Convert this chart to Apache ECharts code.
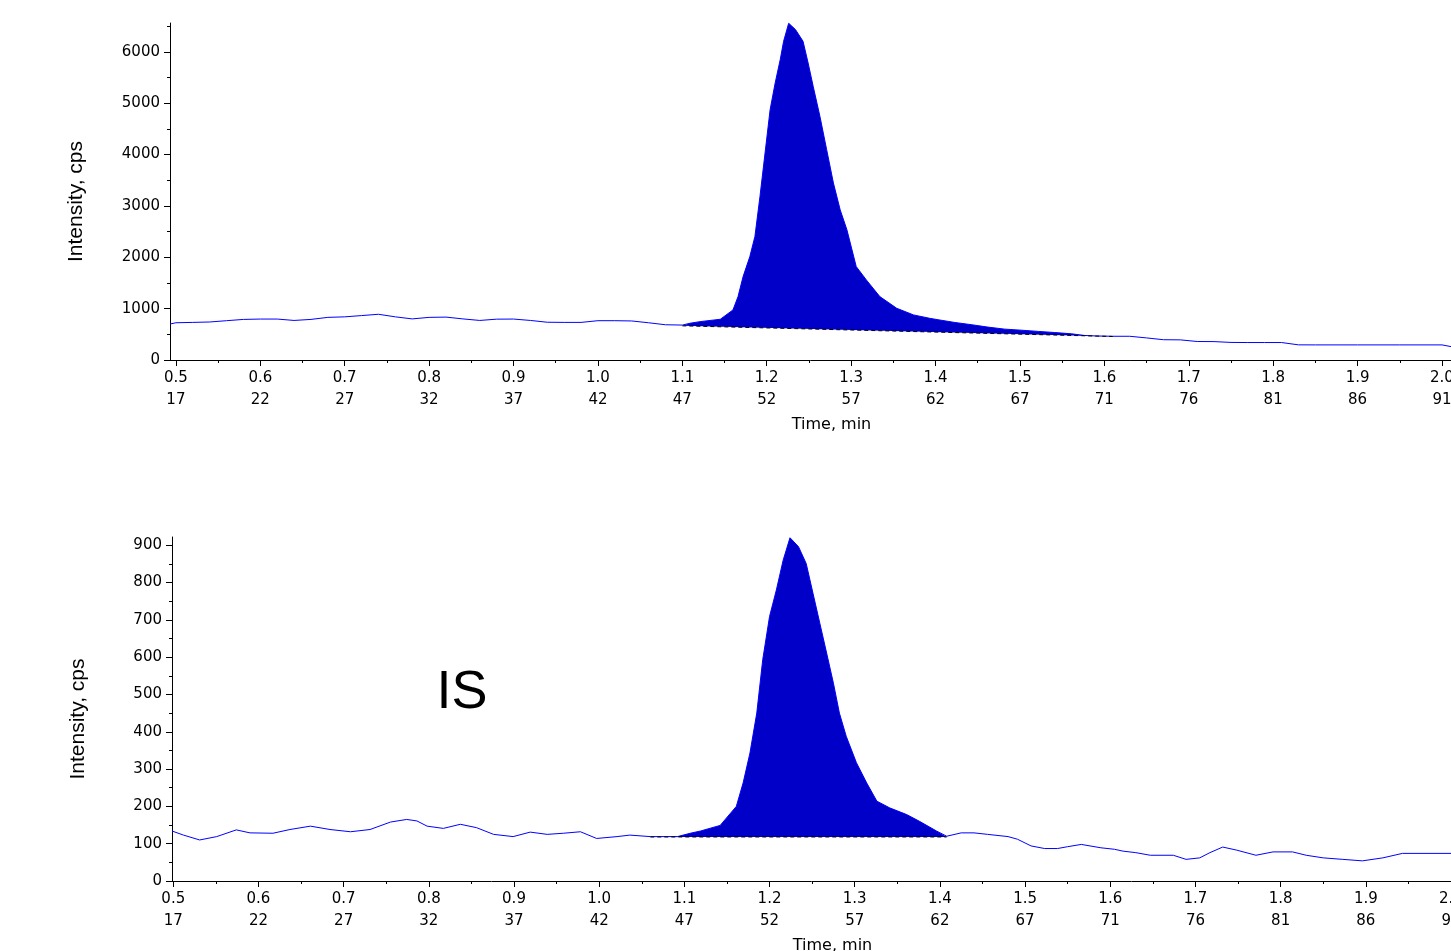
<!DOCTYPE html>
<html>
<head>
<meta charset="utf-8">
<title>XIC</title>
<script src="https://cdn.jsdelivr.net/npm/echarts@6/dist/echarts.min.js"></script>
<style>
  html, body { margin: 0; padding: 0; background: #fff; }
  #chart { width: 1451px; height: 951px; }
</style>
</head>
<body>
<div id="chart"></div>
<script>
// time ticks (min) and the scan numbers printed under them
const timeTicks = [0.5, 0.6, 0.7, 0.8, 0.9, 1.0, 1.1, 1.2, 1.3, 1.4, 1.5, 1.6, 1.7, 1.8, 1.9, 2.0];
const scanTicks = [17, 22, 27, 32, 37, 42, 47, 52, 57, 62, 67, 71, 76, 81, 86, 91];

// upper trace
const topTime = [0.493, 0.50, 0.52, 0.54, 0.56, 0.58, 0.60, 0.62, 0.64, 0.66, 0.68, 0.70, 0.72, 0.74, 0.76, 0.78,
  0.80, 0.82, 0.84, 0.86, 0.88, 0.90, 0.92, 0.94, 0.96, 0.98, 1.00, 1.02, 1.04, 1.06, 1.08, 1.10,
  1.109, 1.121, 1.145, 1.160, 1.166, 1.172, 1.180, 1.186, 1.192, 1.198, 1.204, 1.210, 1.216, 1.220, 1.226,
  1.234, 1.243, 1.249, 1.255, 1.263, 1.271, 1.279, 1.287, 1.295, 1.306, 1.318, 1.334, 1.354, 1.374, 1.393,
  1.403, 1.423, 1.443, 1.462, 1.482, 1.502, 1.522, 1.541, 1.561, 1.577, 1.59, 1.61, 1.63, 1.65, 1.67, 1.69,
  1.71, 1.73, 1.75, 1.77, 1.79, 1.81, 1.83, 1.85, 1.90, 1.95, 2.00, 2.011];
const topIntensity = [700, 725, 732, 740, 765, 790, 797, 797, 770, 790, 830, 840, 865, 890, 840, 800,
  830, 835, 800, 770, 795, 797, 770, 735, 732, 732, 765, 765, 760, 725, 686, 680,
  715, 747, 793, 975, 1234, 1624, 2014, 2404, 3183, 4028, 4873, 5393, 5848, 6205, 6555,
  6433, 6205, 5783, 5328, 4743, 4094, 3444, 2924, 2534, 1819, 1559, 1234, 1007, 877, 812,
  784, 730, 686, 640, 601, 580, 556, 535, 510, 477, 468, 462, 462, 430, 395, 392,
  360, 358, 342, 340, 340, 340, 295, 294, 294, 294, 294, 260];
const topBaseline = [[1.10, 665], [1.61, 458]];
const topYTicks = [0, 1000, 2000, 3000, 4000, 5000, 6000];

// lower trace (internal standard)
const bottomTime = [0.4985, 0.512, 0.531, 0.551, 0.574, 0.590, 0.617, 0.637, 0.661, 0.684, 0.708, 0.731, 0.755,
  0.774, 0.786, 0.798, 0.817, 0.837, 0.856, 0.876, 0.899, 0.919, 0.939, 0.958, 0.978, 0.997, 1.021, 1.036,
  1.060, 1.092, 1.107, 1.119, 1.142, 1.161, 1.169, 1.177, 1.185, 1.192, 1.200, 1.208, 1.216, 1.224, 1.234,
  1.243, 1.251, 1.259, 1.267, 1.275, 1.282, 1.290, 1.302, 1.314, 1.326, 1.341, 1.361, 1.376, 1.396, 1.408,
  1.425, 1.44, 1.456, 1.48, 1.491, 1.507, 1.523, 1.538, 1.55, 1.566, 1.589, 1.605, 1.615, 1.63, 1.647,
  1.674, 1.689, 1.705, 1.717, 1.732, 1.748, 1.771, 1.791, 1.814, 1.830, 1.850, 1.873, 1.896, 1.920, 1.943, 2.0];
const bottomIntensity = [134, 123, 110, 119, 137, 129, 128, 138, 147, 138, 132, 138, 158,
  165, 161, 147, 141, 152, 143, 125, 119, 131, 125, 128, 132, 114, 119, 123,
  119, 119, 128, 134, 149, 200, 263, 343, 450, 593, 709, 780, 860, 920, 896,
  851, 771, 691, 611, 530, 450, 388, 317, 263, 214, 196, 178, 160, 134, 120,
  129, 129, 125, 119, 112, 94, 87, 87, 92, 98, 89, 85, 80, 76, 69,
  69, 58, 62, 76, 91, 83, 69, 78, 78, 69, 62, 58, 54, 62, 74, 74];
const bottomBaseline = [[1.06, 118], [1.408, 118]];
const bottomYTicks = [0, 100, 200, 300, 400, 500, 600, 700, 800, 900];

const zip = (xs, ys) => xs.map((x, i) => [x, ys[i]]);

// outline of the integrated peak: baseline start, trace points, baseline end
function peakOutline(time, intensity, baseline) {
  const pts = [baseline[0]];
  time.forEach((t, i) => {
    if (t > baseline[0][0] && t < baseline[1][0]) pts.push([t, intensity[i]]);
  });
  pts.push(baseline[1]);
  return pts;
}

const tickFont = { color: '#000', fontFamily: 'DejaVu Sans', fontSize: 15 };

function xAxes(grid, min, max) {
  return [{
    type: 'value', gridIndex: grid, min: min, max: max,
    name: 'Time, min', nameLocation: 'middle', nameGap: 57,
    nameTextStyle: { color: '#000', fontFamily: 'DejaVu Sans', fontSize: 16, padding: [0, 0, 0, 42] },
    axisLine: { onZero: false, lineStyle: { color: '#000', width: 1 } },
    axisTick: { customValues: timeTicks, length: 6, lineStyle: { color: '#000' } },
    axisLabel: Object.assign({
      customValues: timeTicks, margin: 7, lineHeight: 22,
      formatter: v => v.toFixed(1) + '\n' + scanTicks[Math.round((v - 0.5) * 10)]
    }, tickFont),
    splitLine: { show: false }
  }, {
    type: 'value', gridIndex: grid, min: min, max: max, position: 'bottom',
    axisLine: { show: false },
    axisTick: { customValues: timeTicks.slice(0, -1).map(t => t + 0.05), length: 3, lineStyle: { color: '#000' } },
    axisLabel: { show: false },
    splitLine: { show: false }
  }];
}

function yAxes(grid, max, ticks) {
  const step = ticks[1] - ticks[0];
  return [{
    type: 'value', gridIndex: grid, min: 0, max: max,
    name: 'Intensity, cps', nameLocation: 'middle', nameGap: 83,
    nameTextStyle: { color: '#000', fontFamily: 'Liberation Sans', fontSize: 21, padding: [0, 20, 0, 0] },
    axisLine: { show: true, onZero: false, lineStyle: { color: '#000', width: 1 } },
    axisTick: { show: true, customValues: ticks, length: 6, lineStyle: { color: '#000' } },
    axisLabel: Object.assign({ customValues: ticks, margin: 10, formatter: v => String(v) }, tickFont),
    splitLine: { show: false }
  }, {
    type: 'value', gridIndex: grid, min: 0, max: max, position: 'left',
    axisLine: { show: false },
    axisTick: { show: true, customValues: ticks.map(v => v + step / 2).filter(v => v < max), length: 3, lineStyle: { color: '#000' } },
    axisLabel: { show: false },
    splitLine: { show: false }
  }];
}

function traceSeries(axis, time, intensity, baseline) {
  const outline = peakOutline(time, intensity, baseline);
  return [{
    type: 'custom', xAxisIndex: axis, yAxisIndex: axis, silent: true, z: 1,
    data: [outline[0]],
    renderItem: (params, api) => ({
      type: 'polygon',
      shape: { points: outline.map(p => api.coord(p)) },
      style: { fill: '#0000c8' }
    })
  }, {
    type: 'line', xAxisIndex: axis, yAxisIndex: axis, z: 3,
    data: baseline, showSymbol: false, silent: true,
    lineStyle: { color: '#000', width: 1, type: [4, 3] }
  }, {
    type: 'line', xAxisIndex: axis, yAxisIndex: axis, z: 2,
    data: zip(time, intensity), showSymbol: false, silent: true,
    lineStyle: { color: '#0000ff', width: 1 }
  }];
}

const chart = echarts.init(document.getElementById('chart'));
chart.setOption({
  animation: false,
  backgroundColor: '#fff',
  grid: [
    { left: 170, right: 0, top: 23, height: 337, containLabel: false, outerBoundsMode: 'none' },
    { left: 172, right: 0, top: 537, height: 344, containLabel: false, outerBoundsMode: 'none' }
  ],
  xAxis: [...xAxes(0, 0.493, 2.0107), ...xAxes(1, 0.4985, 2.0)],
  yAxis: [...yAxes(0, 6560, topYTicks), ...yAxes(1, 922, bottomYTicks)],
  series: [
    ...traceSeries(0, topTime, topIntensity, topBaseline),
    ...traceSeries(2, bottomTime, bottomIntensity, bottomBaseline)
  ],
  graphic: [{
    type: 'text', x: 462, y: 693,
    style: { text: 'IS', fill: '#000', font: '54px "Liberation Sans"', align: 'center', verticalAlign: 'middle' }
  }]
});
</script>
</body>
</html>
